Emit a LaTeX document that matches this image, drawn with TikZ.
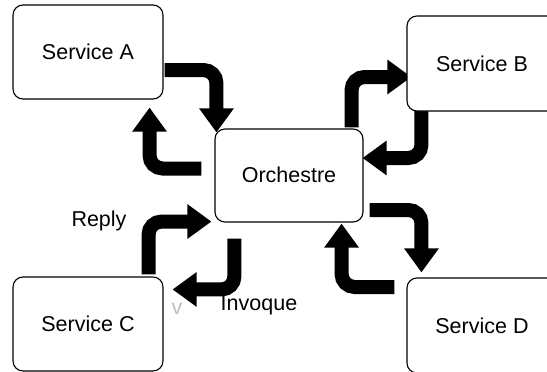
\documentclass[tikz,border=0pt]{standalone}
\usepackage{fontspec}
\setmainfont{Liberation Sans}
\usetikzlibrary{arrows.meta,calc}
\pgfdeclarelayer{background}
\pgfsetlayers{background,main}
\begin{document}
\begin{tikzpicture}[x=1pt,y=-1pt,
  box/.style={draw=black, line width=1.1pt, fill=white, rounded corners=10pt,
    minimum width=150pt, minimum height=94pt, inner sep=0pt, font=\fontsize{21.5}{24}\selectfont},
  bigarrow/.style={line width=14pt, rounded corners=13pt, -{Triangle[width=33pt,length=24pt]}},
  lbl/.style={inner sep=0pt, font=\fontsize{21.5}{24}\selectfont}]
\useasboundingbox (0,0) rectangle (547,372);
\node[box] (A) at (88,52) {Service A};
\node[box, minimum height=95pt] (B) at (482,63.5) {Service B};
\node[box, minimum width=148pt, minimum height=93pt, text height=15pt] (O) at (289,175.5) {Orchestre};
\node[box] (C) at (88,324) {Service C};
\node[box, minimum height=95pt] (D) at (482,325.5) {Service D};
\node[lbl] (reply) at (99,221) {Reply};
\node[lbl] (invoque) at (259,305) {Invoque};
\node[lbl, text=black!25] (v) at (177,309) {v};
\begin{pgfonlayer}{background}
\draw[bigarrow] ($(A.east)+(1,18)$) -| ($(O.north west)+(2,4)$);
\draw[bigarrow] ($(O.west)+(-13,-7)$) -| ($(A.south east)+(-14,8)$);
\draw[bigarrow] ($(O.north east)+(-12,-1)$) |- ($(B.west)+(5,13.5)$);
\draw[bigarrow] ($(B.south west)+(15,-3)$) |- ($(O.east)+(-1,-17.5)$);
\draw[bigarrow] ($(O.east)+(6,34.5)$) -| ($(D.north west)+(15,-5)$);
\draw[bigarrow] ($(D.west)+(-12,-38.5)$) -| ($(O.south east)+(-22,1)$);
\draw[bigarrow] ($(C.north east)+(-15,-2)$) |- ($(O.south west)+(-3,-1)$);
\draw[bigarrow] ($(O.south west)+(20,16)$) |- ($(C.north east)+(9,13)$);
\end{pgfonlayer}
\end{tikzpicture}
\end{document}
